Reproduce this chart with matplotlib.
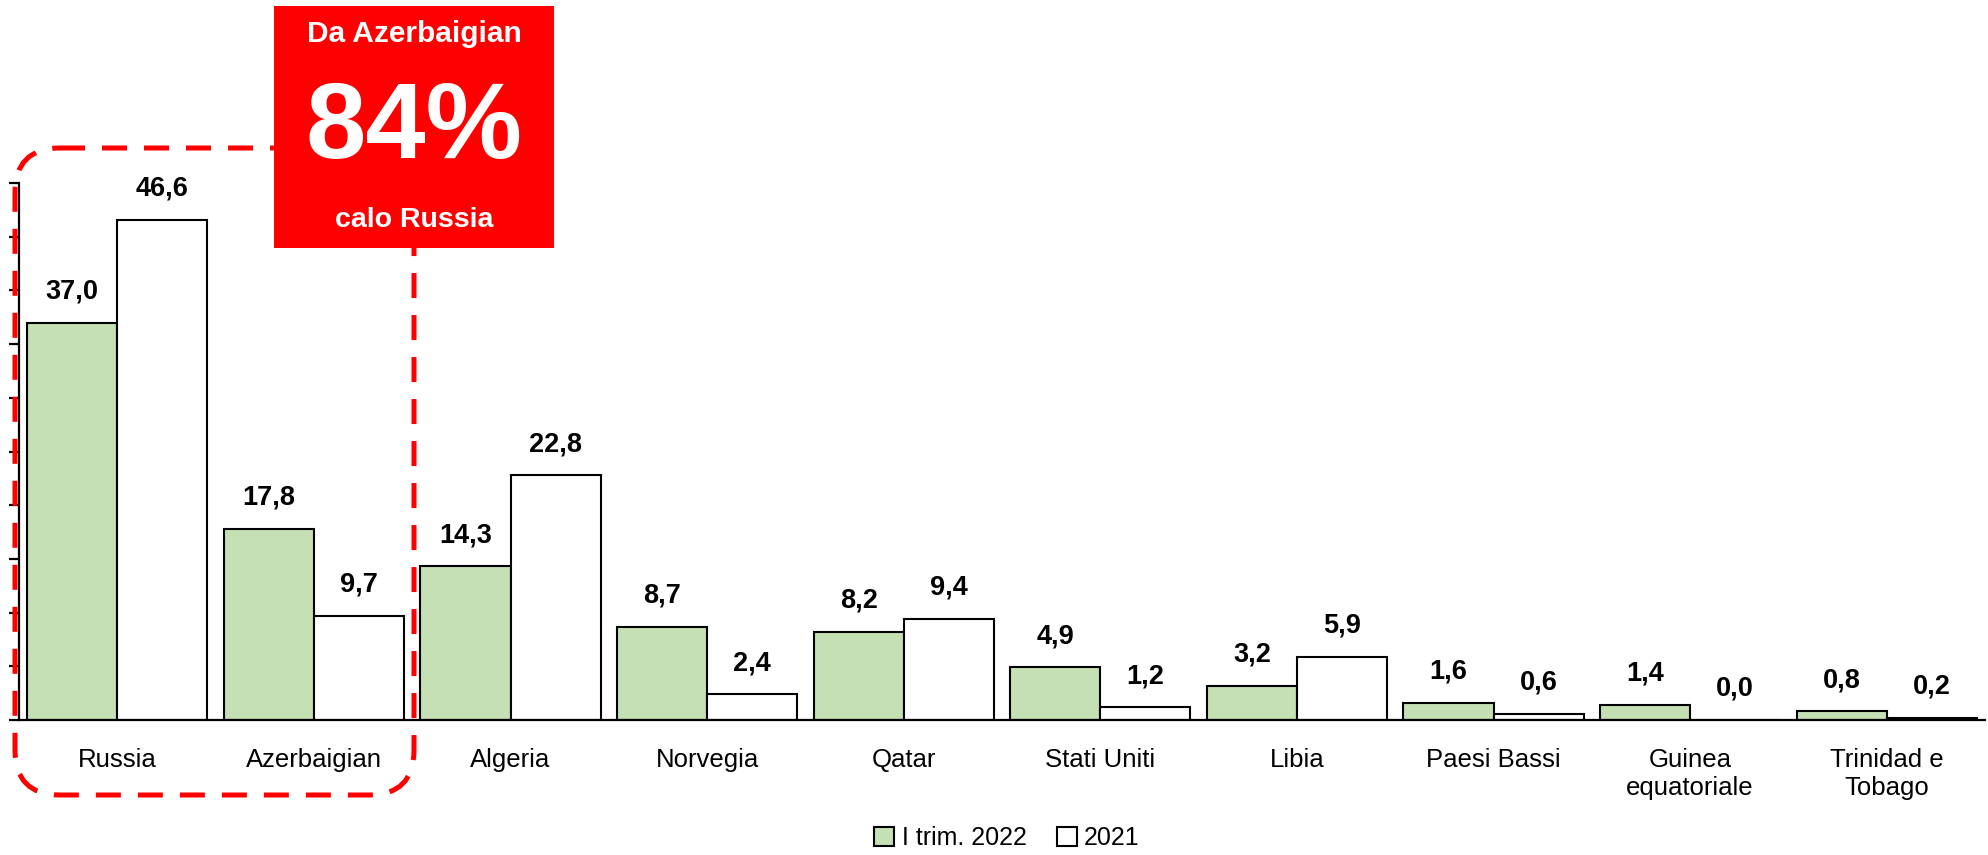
import numpy as np
import matplotlib.pyplot as plt
from matplotlib.patches import Patch, FancyBboxPatch, Rectangle

plt.rcParams['font.family'] = ['Liberation Sans Narrow', 'Liberation Sans', 'DejaVu Sans']

paesi = ['Russia', 'Azerbaigian', 'Algeria', 'Norvegia', 'Qatar', 'Stati Uniti',
         'Libia', 'Paesi Bassi', 'Guinea\nequatoriale', 'Trinidad e\nTobago']
trim_2022 = [37.0, 17.8, 14.3, 8.7, 8.2, 4.9, 3.2, 1.6, 1.4, 0.8]
anno_2021 = [46.6, 9.7, 22.8, 2.4, 9.4, 1.2, 5.9, 0.6, 0.0, 0.2]

verde = '#c5e0b4'
rosso = '#ff0000'

W, H = 1988, 855
fig = plt.figure(figsize=(W / 100, H / 100), dpi=100)
ax = fig.add_axes([19 / W, 1 - 720 / H, 1966 / W, 537 / H])

x = np.arange(len(paesi))
w = 0.458
b1 = ax.bar(x - w / 2, trim_2022, w, color=verde, edgecolor='black', linewidth=1.5)
b2 = ax.bar(x + w / 2, anno_2021, w, color='white', edgecolor='black', linewidth=1.5)

def fmt(v):
    return f'{v:.1f}'.replace('.', ',')

for bars, vals in ((b1, trim_2022), (b2, anno_2021)):
    for r, v in zip(bars, vals):
        ax.annotate(fmt(v), (r.get_x() + r.get_width() / 2, v), xytext=(0, 13),
                    textcoords='offset points', ha='center', va='bottom',
                    fontsize=19.5, fontweight='bold')

ax.set_xlim(-0.5, 9.5)
ax.set_ylim(0, 50)
ax.set_yticks(np.arange(0, 51, 5))
ax.set_yticklabels([])
ax.tick_params(axis='y', direction='out', length=7.5, width=1.6)
ax.set_xticks(x)
ax.set_xticklabels(paesi, fontsize=18.5)
ax.tick_params(axis='x', length=0, pad=20)
for s in ('top', 'right'):
    ax.spines[s].set_visible(False)
for s in ('left', 'bottom'):
    ax.spines[s].set_linewidth(1.6)

# legenda in basso
handles = [Patch(facecolor=verde, edgecolor='black', linewidth=1.5, label='I trim. 2022'),
           Patch(facecolor='white', edgecolor='black', linewidth=1.5, label='2021')]
fig.legend(handles=handles, loc='center', bbox_to_anchor=(1007 / W, 1 - 838 / H), ncol=2,
           frameon=False, fontsize=18, handlelength=0.8, handleheight=0.8,
           handletextpad=0.3, columnspacing=1.2)

# riquadro evidenziato e box rosso
ov = fig.add_axes([0, 0, 1, 1], zorder=5)
ov.set_xlim(0, W)
ov.set_ylim(H, 0)
ov.axis('off')
ov.patch.set_alpha(0)
ov.add_patch(FancyBboxPatch((15, 148), 399, 647, boxstyle='round,pad=0,rounding_size=45',
                            fill=False, edgecolor=rosso, linewidth=3.6,
                            linestyle=(0, (5, 3.4))))
ov.add_patch(Rectangle((274, 6), 280, 242, facecolor=rosso, edgecolor='none'))
ov.text(414, 34, 'Da Azerbaigian', color='white', fontsize=21.5, fontweight='bold',
        ha='center', va='center')
ov.text(414, 130, '84%', color='white', fontsize=78, fontweight='bold',
        ha='center', va='center')
ov.text(414, 220, 'calo Russia', color='white', fontsize=20.5, fontweight='bold',
        ha='center', va='center')

plt.savefig('out.png', dpi=100)
